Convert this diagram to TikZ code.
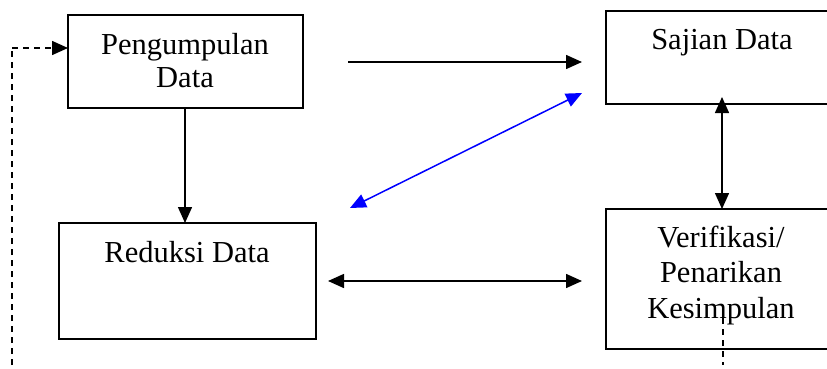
\documentclass[tikz,border=0pt]{standalone}
\usepackage{fontspec}
\setmainfont{Liberation Serif}
\usetikzlibrary{arrows.meta}
\begin{document}
\begin{tikzpicture}[x=1pt,y=-1pt,
  box/.style={draw=black,line width=2pt,inner sep=0pt,outer sep=0pt},
  lbl/.style={inner sep=0pt,align=center,anchor=base,font=\fontsize{30.5pt}{33pt}\selectfont},
  tip/.style={-{Triangle[length=16pt,width=14pt]}},
  conn/.style={line width=1.5pt,tip},
  biconn/.style={line width=1.5pt,{Triangle[length=16pt,width=14pt]}-{Triangle[length=16pt,width=14pt]}},
  dashln/.style={line width=1.5pt,dash pattern=on 6pt off 5pt}]
\useasboundingbox (0,0) rectangle (827,369);
% boxes
\node[box,minimum width=235pt,minimum height=93pt] (P) at (185.5,61.5) {};
\node[box,minimum width=229pt,minimum height=93pt] (S) at (720.5,57.5) {};
\node[box,minimum width=257pt,minimum height=116pt] (R) at (187.5,281) {};
\node[box,minimum width=229pt,minimum height=140pt] (V) at (720.5,279) {};
% labels (base anchor = baseline of last line)
\node[lbl] (Pt) at (185,88) {Pengumpulan\\Data};
\node[lbl] (St) at (722,50) {Sajian Data};
\node[lbl] (Rt) at (187,262) {Reduksi Data};
\node[lbl,font=\fontsize{30.5pt}{35.5pt}\selectfont] (Vt) at (721,318) {Verifikasi/\\Penarikan\\Kesimpulan};
% connector ends
\coordinate (ps1) at (348,62);
\coordinate (ps2) at (582,62);
\coordinate (pr) at (185,0);
\coordinate (b1) at (350,208);
\coordinate (b2) at (582,93);
\coordinate (rv1) at (328,281);
\coordinate (rv2) at (582,281);
\coordinate (sv1) at (722,97);
\coordinate (d1) at (12,365);
\coordinate (d2) at (12,48);
\coordinate (d3) at (723,318);
\coordinate (d4) at (723,365);
% connectors
\draw[conn] (ps1) -- (ps2);
\draw[conn] (P.south -| pr) -- (R.north -| pr);
\draw[biconn,draw=blue,fill=blue] (b1) -- (b2);
\draw[biconn] (rv1) -- (rv2);
\draw[biconn] (sv1) -- (V.north -| sv1);
\draw[dashln] (d1) -- (d2);
\draw[dashln,tip] (d2) -- (P.west |- d2);
\draw[dashln] (d3) -- (d4);
\end{tikzpicture}
\end{document}
